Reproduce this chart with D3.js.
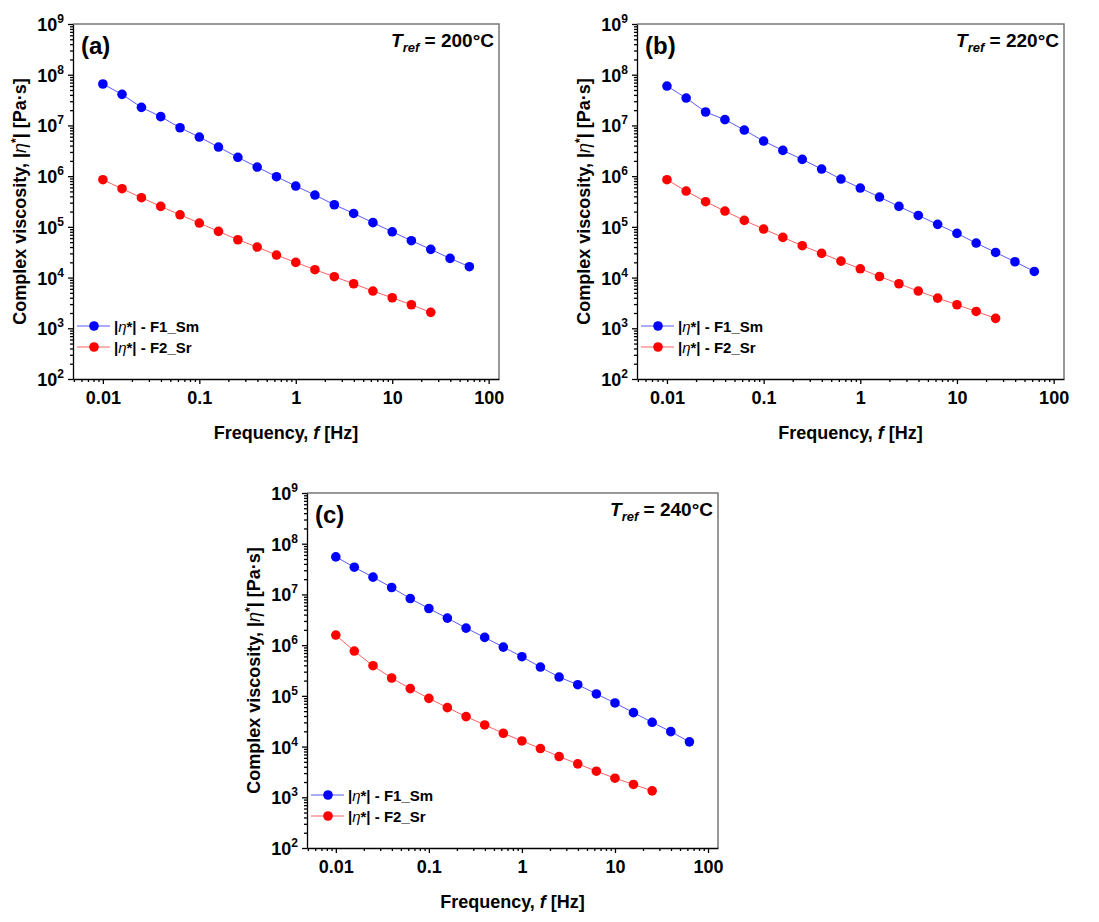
<!DOCTYPE html>
<html>
<head>
<meta charset="utf-8">
<script src="https://cdnjs.cloudflare.com/ajax/libs/d3/7.8.5/d3.min.js"></script>
<style>
  body { margin: 0; background: #fff; }
  svg { font-family: "Liberation Sans", Arial, sans-serif; font-weight: bold; }
</style>
</head>
<body>
<svg width="1099" height="922"></svg>
<script>
const svg = d3.select('svg');

// frequencies (Hz), 5 points per decade
const freqF1 = [0.01, 0.0158, 0.0251, 0.0398, 0.0631, 0.1, 0.158, 0.251, 0.398, 0.631,
                1, 1.58, 2.51, 3.98, 6.31, 10, 15.8, 25.1, 39.8, 63.1];
const freqF2 = [0.01, 0.0158, 0.0251, 0.0398, 0.0631, 0.1, 0.158, 0.251, 0.398, 0.631,
                1, 1.58, 2.51, 3.98, 6.31, 10, 15.8, 25.1];

// complex viscosity |eta*| (Pa·s)
const etaF1_200 = [6.56e7, 4.1e7, 2.27e7, 1.49e7, 9.0e6, 5.9e6, 3.75e6, 2.35e6, 1.51e6, 9.75e5,
                   6.38e5, 4.24e5, 2.73e5, 1.84e5, 1.21e5, 8.0e4, 5.33e4, 3.6e4, 2.39e4, 1.64e4];
const etaF2_200 = [8.5e5, 5.65e5, 3.76e5, 2.53e5, 1.73e5, 1.19e5, 8.14e4, 5.57e4, 4.0e4, 2.78e4,
                   1.99e4, 1.43e4, 1.04e4, 7.55e3, 5.42e3, 4.0e3, 2.91e3, 2.06e3];

const etaF1_220 = [5.98e7, 3.47e7, 1.84e7, 1.30e7, 8.1e6, 4.92e6, 3.22e6, 2.14e6, 1.38e6, 8.77e5,
                   5.82e5, 3.87e5, 2.53e5, 1.68e5, 1.12e5, 7.43e4, 4.79e4, 3.13e4, 2.05e4, 1.32e4];
const etaF2_220 = [8.5e5, 5.08e5, 3.13e5, 2.05e5, 1.34e5, 9.06e4, 6.2e4, 4.25e4, 3.0e4, 2.11e4,
                   1.49e4, 1.05e4, 7.55e3, 5.42e3, 3.94e3, 2.91e3, 2.15e3, 1.57e3];

const etaF1_240 = [5.5e7, 3.44e7, 2.19e7, 1.37e7, 8.3e6, 5.28e6, 3.41e6, 2.17e6, 1.42e6, 9.16e5,
                   5.91e5, 3.70e5, 2.35e5, 1.66e5, 1.09e5, 7.24e4, 4.67e4, 3.01e4, 1.97e4, 1.24e4];
const etaF2_240 = [1.58e6, 7.64e5, 3.93e5, 2.25e5, 1.39e5, 8.94e4, 5.86e4, 3.9e4, 2.67e4, 1.83e4,
                   1.29e4, 9.14e3, 6.36e3, 4.56e3, 3.27e3, 2.38e3, 1.79e3, 1.34e3];

const xTicks = [0.01, 0.1, 1, 10, 100];
const xTickLabels = ['0.01', '0.1', '1', '10', '100'];
const yExponents = [2, 3, 4, 5, 6, 7, 8, 9];
const seriesNames = ['F1_Sm', 'F2_Sr'];

const panels = [
    { tag: '(a)', temp: '200°C', f1: etaF1_200, f2: etaF2_200, left: 73, top: 24, w: 426, h: 355 },
    { tag: '(b)', temp: '220°C', f1: etaF1_220, f2: etaF2_220, left: 637, top: 24, w: 427, h: 355 },
    { tag: '(c)', temp: '240°C', f1: etaF1_240, f2: etaF2_240, left: 307, top: 493, w: 411, h: 355 }
];

const colors = ['#0000ff', '#ff0000'];
const lineColors = ['#5a5aff', '#ff6060'];

const minorTicks = (lo, hi) => {
    const out = [];
    for (let e = lo; e <= hi; e++) {
        for (let m = 2; m <= 9; m++) out.push(m * Math.pow(10, e));
    }
    return out;
};

const renderPanel = p => {
    const g = svg.append('g')
        .attr('transform', `translate(${p.left}, ${p.top})`);

    const xScale = d3.scaleLog()
        .domain([0.0049, 128])
        .range([0, p.w]);

    const yScale = d3.scaleLog()
        .domain([1e2, 1e9])
        .range([p.h, 0]);

    // frame (top/right grey)
    g.append('path')
        .attr('d', `M0,0H${p.w}V${p.h}`)
        .attr('fill', 'none')
        .attr('stroke', '#777')
        .attr('stroke-width', 1.5);

    // x axis
    const xAxisG = g.append('g')
        .attr('transform', `translate(0, ${p.h})`)
        .call(d3.axisBottom(xScale)
            .tickValues(xTicks)
            .tickFormat((d, i) => xTickLabels[i])
            .tickSize(5)
            .tickSizeOuter(0)
            .tickPadding(7));

    g.append('g')
        .attr('transform', `translate(0, ${p.h})`)
        .call(d3.axisBottom(xScale)
            .tickValues(minorTicks(-3, 1).filter(v => v >= 0.0049 && v <= 128))
            .tickFormat('')
            .tickSize(3))
        .select('.domain').remove();

    xAxisG.selectAll('text')
        .attr('font-size', 18)
        .attr('font-family', '"Liberation Sans", Arial, sans-serif')
        .attr('font-weight', 'bold')
        .attr('fill', '#000');

    // y axis
    const yAxisG = g.append('g')
        .call(d3.axisLeft(yScale)
            .tickValues(yExponents.map(e => Math.pow(10, e)))
            .tickFormat('')
            .tickSize(5)
            .tickSizeOuter(0));

    g.append('g')
        .call(d3.axisLeft(yScale)
            .tickValues(minorTicks(2, 8))
            .tickFormat('')
            .tickSize(3))
        .select('.domain').remove();

    g.selectAll('.domain, .tick line')
        .attr('stroke', '#000')
        .attr('stroke-width', 1.3);

    yExponents.forEach(e => {
        const t = yAxisG.append('text')
            .attr('x', -9)
            .attr('y', yScale(Math.pow(10, e)) + 7)
            .attr('text-anchor', 'end')
            .attr('font-size', 18)
            .attr('fill', '#000');
        t.append('tspan').text('10');
        t.append('tspan').attr('font-size', 12).attr('dy', -8).text(e);
    });

    // axis titles
    const xt = g.append('text')
        .attr('x', p.w / 2)
        .attr('y', p.h + 60)
        .attr('text-anchor', 'middle')
        .attr('font-size', 18);
    xt.append('tspan').text('Frequency, ');
    xt.append('tspan').attr('font-style', 'italic').text('f');
    xt.append('tspan').text(' [Hz]');

    const yt = g.append('text')
        .attr('transform', `translate(-47, ${p.h / 2}) rotate(-90)`)
        .attr('text-anchor', 'middle')
        .attr('font-size', 18);
    yt.append('tspan').text('Complex viscosity, |');
    yt.append('tspan').attr('font-style', 'italic').attr('font-weight', 'normal').text('η');
    yt.append('tspan').attr('font-size', 12).attr('dy', -6).text('*');
    yt.append('tspan').attr('dy', 6).text('| [Pa·s]');

    // panel tag and temperature
    g.append('text')
        .attr('x', 8)
        .attr('y', 30)
        .attr('font-size', 24)
        .text(p.tag);

    const tt = g.append('text')
        .attr('x', p.w - 5)
        .attr('y', 23)
        .attr('text-anchor', 'end')
        .attr('font-size', 19);
    tt.append('tspan').attr('font-style', 'italic').text('T');
    tt.append('tspan').attr('font-style', 'italic').attr('font-size', 13).attr('dy', 5).text('ref');
    tt.append('tspan').attr('dy', -5).text(' = ' + p.temp);

    // series
    const series = [
        { x: freqF1, y: p.f1 },
        { x: freqF2, y: p.f2 }
    ];

    const line = d3.line()
        .x(d => xScale(d[0]))
        .y(d => yScale(d[1]));

    series.forEach((s, i) => {
        const pts = s.x.map((f, k) => [f, s.y[k]]);
        g.append('path')
            .datum(pts)
            .attr('d', line)
            .attr('fill', 'none')
            .attr('stroke', lineColors[i])
            .attr('stroke-width', 1);
        g.selectAll(null)
            .data(pts)
            .enter().append('circle')
            .attr('cx', d => xScale(d[0]))
            .attr('cy', d => yScale(d[1]))
            .attr('r', 4.8)
            .attr('fill', colors[i]);
    });

    // legend
    const lg = g.append('g')
        .attr('transform', `translate(4, ${p.h - 53})`);
    seriesNames.forEach((name, i) => {
        const row = lg.append('g').attr('transform', `translate(0, ${i * 21})`);
        row.append('line')
            .attr('x1', 0).attr('x2', 33)
            .attr('stroke', lineColors[i])
            .attr('stroke-width', 1);
        row.append('circle')
            .attr('cx', 17)
            .attr('r', 4.8)
            .attr('fill', colors[i]);
        const lt = row.append('text')
            .attr('x', 37)
            .attr('y', 5.5)
            .attr('font-size', 15);
        lt.append('tspan').text('|');
        lt.append('tspan').attr('font-style', 'italic').attr('font-weight', 'normal').text('η');
        lt.append('tspan').text('*| - ' + name);
    });
};

panels.forEach(renderPanel);
</script>
</body>
</html>
